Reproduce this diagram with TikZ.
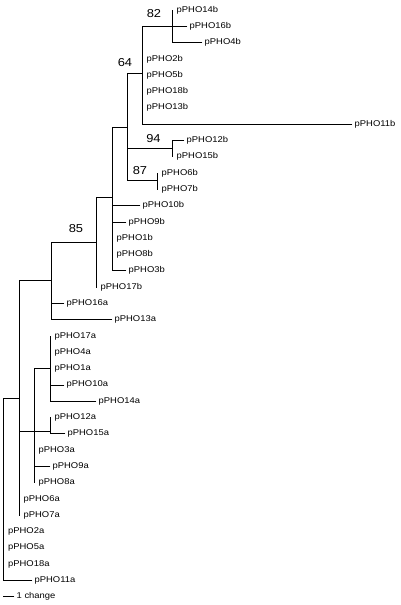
\documentclass[tikz,border=0pt]{standalone}
\usepackage{fontspec}
\setmainfont{Liberation Sans}
\newfontfamily\labfont[FakeStretch=1.12]{Liberation Sans}
\begin{document}
\begin{tikzpicture}[x=1pt,y=-1pt,
  br/.style={line width=0.8pt, draw=black, line cap=rect},
  tip/.style={anchor=west, inner xsep=2.5pt, inner ysep=0pt, font=\labfont\fontsize{8.4}{9}\selectfont, text=black},
  boot/.style={inner sep=0pt, font=\labfont\fontsize{11.5}{13}\selectfont, text=black}]
\useasboundingbox (0,0) rectangle (400,605);
% internal nodes
\coordinate (O) at (172,26.3);
\coordinate (L) at (142,73);
\coordinate (M) at (172,148);
\coordinate (N) at (157,180);
\coordinate (K) at (127,127);
\coordinate (I) at (112,197);
\coordinate (F) at (96,242);
\coordinate (E) at (51,280);
\coordinate (C) at (50,368);
\coordinate (D) at (50,431);
\coordinate (B) at (34,431);
\coordinate (A) at (19,398);
\coordinate (R) at (3.5,398);
% tips
\node[tip] (t14b) at (174,10) {pPHO14b};
\node[tip] (t16b) at (187,26.3) {pPHO16b};
\node[tip] (t4b) at (202,42.6) {pPHO4b};
\node[tip] (t2b) at (144,58.9) {pPHO2b};
\node[tip] (t5b) at (144,75.2) {pPHO5b};
\node[tip] (t18b) at (144,91.5) {pPHO18b};
\node[tip] (t13b) at (144,107.8) {pPHO13b};
\node[tip] (t11b) at (352,124.1) {pPHO11b};
\node[tip] (t12b) at (184,140.4) {pPHO12b};
\node[tip] (t15b) at (174,156.7) {pPHO15b};
\node[tip] (t6b) at (159,173) {pPHO6b};
\node[tip] (t7b) at (159,189.3) {pPHO7b};
\node[tip] (t10b) at (140,205.6) {pPHO10b};
\node[tip] (t9b) at (126,221.9) {pPHO9b};
\node[tip] (t1b) at (114,238.2) {pPHO1b};
\node[tip] (t8b) at (114,254.5) {pPHO8b};
\node[tip] (t3b) at (126,270.8) {pPHO3b};
\node[tip] (t17b) at (98,287.1) {pPHO17b};
\node[tip] (t16a) at (64,303.4) {pPHO16a};
\node[tip] (t13a) at (112,319.7) {pPHO13a};
\node[tip] (t17a) at (52,336) {pPHO17a};
\node[tip] (t4a) at (52,352.3) {pPHO4a};
\node[tip] (t1a) at (52,368.6) {pPHO1a};
\node[tip] (t10a) at (64,384.9) {pPHO10a};
\node[tip] (t14a) at (96,401.2) {pPHO14a};
\node[tip] (t12a) at (52,417.5) {pPHO12a};
\node[tip] (t15a) at (65,433.8) {pPHO15a};
\node[tip] (t3a) at (36,450.1) {pPHO3a};
\node[tip] (t9a) at (50,466.4) {pPHO9a};
\node[tip] (t8a) at (36,482.7) {pPHO8a};
\node[tip] (t6a) at (21,499) {pPHO6a};
\node[tip] (t7a) at (21,515.3) {pPHO7a};
\node[tip] (t2a) at (5.5,531.6) {pPHO2a};
\node[tip] (t5a) at (5.5,547.9) {pPHO5a};
\node[tip] (t18a) at (5.5,564.2) {pPHO18a};
\node[tip] (t11a) at (32,580.5) {pPHO11a};
% bootstrap values
\node[boot] (b82) at (154,14) {82};
\node[boot] (b64) at (125,62.5) {64};
\node[boot] (b94) at (153.5,139) {94};
\node[boot] (b87) at (140,171) {87};
\node[boot] (b85) at (76,229) {85};
% O
\draw[br] (O |- t14b) -- (O |- t4b);
\draw[br] (O |- t16b) -- (t16b.west);
\draw[br] (O |- t4b) -- (t4b.west);
% L
\draw[br] (L |- O) -- (L |- t11b);
\draw[br] (L |- O) -- (O);
\draw[br] (L |- t11b) -- (t11b.west);
% M
\draw[br] (M |- t12b) -- (M |- t15b);
\draw[br] (M |- t12b) -- (t12b.west);
% N
\draw[br] (N |- t6b) -- (N |- t7b);
% K
\draw[br] (K |- L) -- (K |- N);
\draw[br] (K |- L) -- (L);
\draw[br] (K |- M) -- (M);
\draw[br] (K |- N) -- (N);
% I
\draw[br] (I |- K) -- (I |- t3b);
\draw[br] (I |- K) -- (K);
\draw[br] (I |- t10b) -- (t10b.west);
\draw[br] (I |- t9b) -- (t9b.west);
\draw[br] (I |- t3b) -- (t3b.west);
% F
\draw[br] (F |- I) -- (F |- t17b);
\draw[br] (F |- I) -- (I);
% E
\draw[br] (E |- F) -- (E |- t13a);
\draw[br] (E |- F) -- (F);
\draw[br] (E |- t16a) -- (t16a.west);
\draw[br] (E |- t13a) -- (t13a.west);
% C
\draw[br] (C |- t17a) -- (C |- t14a);
\draw[br] (C |- t10a) -- (t10a.west);
\draw[br] (C |- t14a) -- (t14a.west);
% D
\draw[br] (D |- t12a) -- (D |- t15a);
\draw[br] (D |- t15a) -- (t15a.west);
% B
\draw[br] (B |- C) -- (B |- t8a);
\draw[br] (B |- C) -- (C);
\draw[br] (B |- D) -- (D);
\draw[br] (B |- t9a) -- (t9a.west);
% A
\draw[br] (A |- E) -- (A |- t7a);
\draw[br] (A |- E) -- (E);
\draw[br] (A |- B) -- (B);
% R
\draw[br] (R |- A) -- (R |- t11a);
\draw[br] (R |- A) -- (A);
\draw[br] (R |- t11a) -- (t11a.west);
% scale bar
\coordinate (sb) at (3,596.8);
\node[tip] (scl) at (14,596.8) {1 change};
\draw[br] (sb) -- (scl.west);
\end{tikzpicture}
\end{document}
